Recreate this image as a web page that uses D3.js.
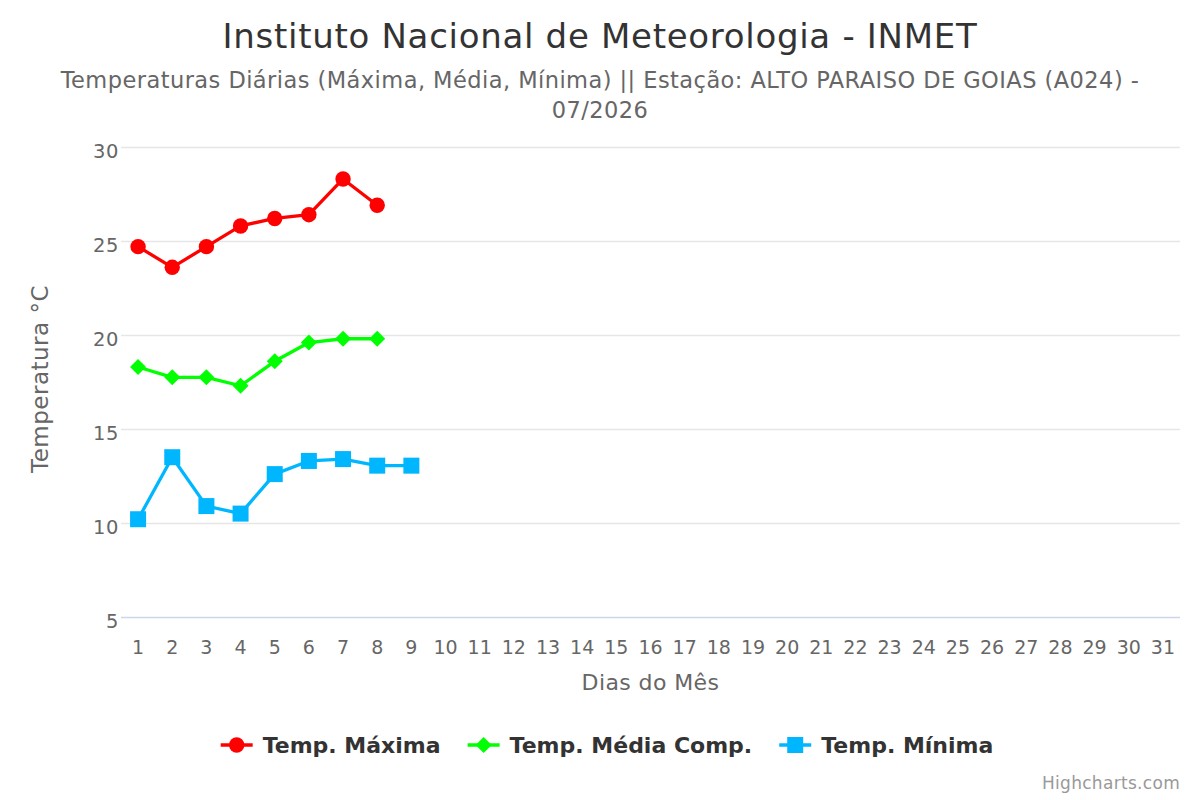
<!DOCTYPE html>
<html><head><meta charset="utf-8">
<script src="https://cdn.jsdelivr.net/npm/d3@7"></script>
<style>body{margin:0;background:#fff;} svg{display:block;font-family:"DejaVu Sans",sans-serif;}</style>
</head><body>
<svg id="c" width="1200" height="800"></svg>
<script>
const days = d3.range(1, 32).map(String);
const tempMax = [24.7, 23.6, 24.7, 25.8, 26.2, 26.4, 28.3, 26.9];
const tempMed = [18.3, 17.75, 17.75, 17.3, 18.6, 19.6, 19.8, 19.8];
const tempMin = [10.2, 13.5, 10.9, 10.5, 12.6, 13.3, 13.4, 13.05, 13.05];
const yTicks = [5, 10, 15, 20, 25, 30];
const seriesNames = ["Temp. Máxima", "Temp. Média Comp.", "Temp. Mínima"];
const seriesColors = ["#ff0000", "#00ff00", "#00b7ff"];
const seriesSymbols = ["circle", "diamond", "square"];

const svg = d3.select("#c");
const L = 121, R = 1180, T = 147, B = 617;
const x = d3.scaleBand().domain(days).range([L, R]);
const y = d3.scaleLinear().domain([5, 30]).range([B, T]);

svg.append("text").attr("x", 600).attr("y", 48).attr("text-anchor", "middle")
  .attr("font-size", 34).attr("letter-spacing", 0.7).attr("fill", "#333").text("Instituto Nacional de Meteorologia - INMET");
svg.append("text").attr("x", 600).attr("y", 88).attr("text-anchor", "middle")
  .attr("font-size", 22.5).attr("letter-spacing", 0.45).attr("fill", "#666").text("Temperaturas Diárias (Máxima, Média, Mínima) || Estação: ALTO PARAISO DE GOIAS (A024) -");
svg.append("text").attr("x", 600).attr("y", 118).attr("text-anchor", "middle")
  .attr("font-size", 22.5).attr("letter-spacing", 0.45).attr("fill", "#666").text("07/2026");

// grid
const yAxis = d3.axisLeft(y).tickValues(yTicks).tickSize(-(R - L)).tickPadding(0);
const gy = svg.append("g").attr("transform", `translate(${L},0)`).call(yAxis);
gy.select(".domain").remove();
gy.selectAll(".tick line").attr("stroke", "#e6e6e6").attr("stroke-width", 1.5);
gy.selectAll(".tick text").attr("x", -2).attr("y", 3).attr("dy", "0.36em").attr("font-size", 19.5).attr("letter-spacing", 0.6).attr("fill", "#666").attr("font-family", "DejaVu Sans");
gy.selectAll(".tick").filter(d => d === 5).select("line").attr("stroke", "#ccd6eb");

const xAxis = d3.axisBottom(x).tickSize(0).tickPadding(37);
const gx = svg.append("g").attr("transform", `translate(0,${B})`).call(xAxis);
gx.select(".domain").remove();
gx.selectAll(".tick text").attr("font-size", 19).attr("fill", "#666").attr("font-family", "DejaVu Sans").attr("dy", "0");

svg.append("text").attr("x", (L + R) / 2).attr("y", 690).attr("text-anchor", "middle")
  .attr("font-size", 22).attr("letter-spacing", 0.4).attr("fill", "#666").text("Dias do Mês");
svg.append("text").attr("transform", `translate(48,${(T + B) / 2 - 3}) rotate(-90)`).attr("text-anchor", "middle")
  .attr("font-size", 23).attr("letter-spacing", 0.5).attr("fill", "#666").text("Temperatura °C");

function drawSym(g, type, color, cx, cy) {
  if (type === "circle") g.append("circle").attr("cx", cx).attr("cy", cy).attr("r", 7.7).attr("fill", color);
  else if (type === "square") g.append("rect").attr("x", cx - 8).attr("y", cy - 8).attr("width", 16).attr("height", 16).attr("fill", color);
  else g.append("path").attr("d", `M${cx},${cy - 8}L${cx + 8},${cy}L${cx},${cy + 8}L${cx - 8},${cy}Z`).attr("fill", color);
}

const allSeries = [tempMax, tempMed, tempMin];
const line = d3.line().x((d, i) => x(days[i]) + x.bandwidth() / 2).y(d => y(d));
allSeries.forEach((data, s) => {
  const g = svg.append("g");
  g.append("path").datum(data).attr("d", line).attr("fill", "none")
    .attr("stroke", seriesColors[s]).attr("stroke-width", 3.3).attr("stroke-linejoin", "round").attr("stroke-linecap", "round");
  data.forEach((v, i) => drawSym(g, seriesSymbols[s], seriesColors[s], x(days[i]) + x.bandwidth() / 2, y(v)));
});

// legend
const lg = svg.append("g");
let cur = 0;
const gap = 27;
seriesNames.forEach((n, s) => {
  const it = lg.append("g");
  it.append("line").attr("x1", 0).attr("x2", 32).attr("y1", 0).attr("y2", 0).attr("stroke", seriesColors[s]).attr("stroke-width", 3.3);
  drawSym(it, seriesSymbols[s], seriesColors[s], 16, 0);
  const t = it.append("text").attr("x", 42).attr("y", 8).attr("font-size", 22).attr("font-weight", "bold").attr("fill", "#333").text(n);
  const w = 42 + t.node().getComputedTextLength();
  it.attr("transform", `translate(${cur},745)`);
  cur += w + gap;
});
const totalW = cur - gap;
lg.attr("transform", `translate(${607 - totalW / 2},0)`);

svg.append("text").attr("x", 1180).attr("y", 789).attr("text-anchor", "end")
  .attr("font-size", 17).attr("letter-spacing", 0.3).attr("fill", "#999").text("Highcharts.com");
</script>
</body></html>
